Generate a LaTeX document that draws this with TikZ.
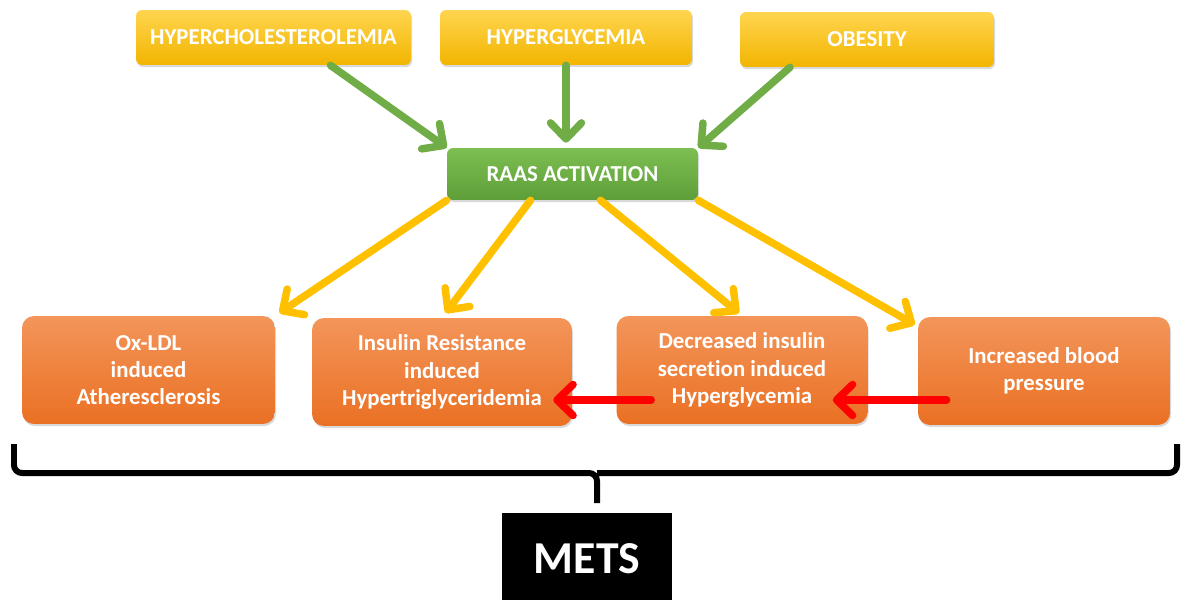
\documentclass[tikz,border=0pt]{standalone}
\usepackage{fontspec}
\setmainfont[Ligatures=NoCommon]{Carlito}
\usetikzlibrary{arrows.meta,calc,shadows}

\definecolor{riskTop}{HTML}{FFD54F}
\definecolor{riskBot}{HTML}{F2B500}
\definecolor{raasTop}{HTML}{7DBF52}
\definecolor{raasBot}{HTML}{5E9E38}
\definecolor{effTop}{HTML}{F3955A}
\definecolor{effBot}{HTML}{EA7023}
\definecolor{arrGreen}{HTML}{70AD47}
\definecolor{arrYellow}{HTML}{FFC000}
\definecolor{arrRed}{HTML}{FF0000}

\begin{document}
\begin{tikzpicture}[x=0.02cm, y=-0.02cm,
    box/.style={text=white, align=center, inner sep=0pt,
      font=\bfseries\fontsize{13}{15.5}\selectfont,
      drop shadow={shadow xshift=0.6pt, shadow yshift=-1.2pt, opacity=0.3}},
    riskbox/.style={box, rounded corners=0.12cm, top color=riskTop,
      bottom color=riskBot, minimum height=1.1cm},
    raasbox/.style={box, rounded corners=0.12cm, top color=raasTop,
      bottom color=raasBot, minimum height=1.04cm, minimum width=5.02cm},
    effectbox/.style={box, rounded corners=0.24cm, top color=effTop,
      bottom color=effBot, minimum height=2.16cm},
    arrow/.style={line width=0.15cm, line cap=round,
      -{Straight Barb[length=0.32cm, width=0.62cm, round]}},
    greenarrow/.style={arrow, arrGreen},
    yellowarrow/.style={arrow, arrYellow},
    redarrow/.style={arrow, arrRed},
  ]
  \clip (0,0) rectangle (1181,599);

  % risk factors
  \node[riskbox, minimum width=5.5cm] (chol) at (273.5,37.5) {HYPERCHOLESTEROLEMIA};
  \node[riskbox, minimum width=5.04cm] (glyc) at (566,37.5) {HYPERGLYCEMIA};
  \node[riskbox, minimum width=5.08cm] (obes) at (867,39.5) {OBESITY};

  \node[raasbox] (raas) at (572.5,174) {RAAS ACTIVATION};

  % effects
  \node[effectbox, minimum width=5.06cm] (oxldl) at (148.5,370) {Ox-LDL\\induced\\Atheresclerosis};
  \node[effectbox, minimum width=5.2cm] (insres) at (442,372) {Insulin Resistance\\induced\\Hypertriglyceridemia};
  \node[effectbox, minimum width=5.02cm] (insdec) at (742,370) {Decreased insulin\\secretion induced\\Hyperglycemia};
  \node[effectbox, minimum width=5.04cm] (bp) at (1044,371) {Increased blood\\pressure};

  \node[fill=black, text=white, inner sep=0pt, minimum width=3.4cm,
    minimum height=1.84cm, font=\bfseries\fontsize{26}{30}\selectfont] (mets) at (587,559) {METS};

  % risk factors -> RAAS
  \draw[greenarrow] ($(chol.south)+(57,0)$) -- (raas.north west);
  \draw[greenarrow, shorten >=0.1cm] (glyc.south) -- (glyc.south |- raas.north);
  \draw[greenarrow] ($(obes.south)+(-77,0)$) -- (raas.north east);

  % RAAS -> effects
  \draw[yellowarrow, shorten >=0.1cm] (raas.south west) -- (oxldl.north east);
  \draw[yellowarrow, shorten >=0.12cm] ($(raas.south)+(-42,0)$) -- (insres.north);
  \draw[yellowarrow, shorten >=0.08cm] ($(raas.south)+(28,0)$) -- (insdec.north);
  \draw[yellowarrow] (raas.south east) -- ($(bp.north west)+(-3,8)$);

  % chain
  \draw[redarrow] ($(bp.west)+(29,29)$) -- ($(insdec.east)+(-35,30)$);
  \draw[redarrow] ($(insdec.west)+(35,30)$) -- ($(insres.east)+(-19,28)$);

  % brace
  \draw[line width=0.12cm, rounded corners=0.16cm]
    (14,444) |- (597,473) -- (597,503)
    (1177,444) |- (597,473);
\end{tikzpicture}
\end{document}
